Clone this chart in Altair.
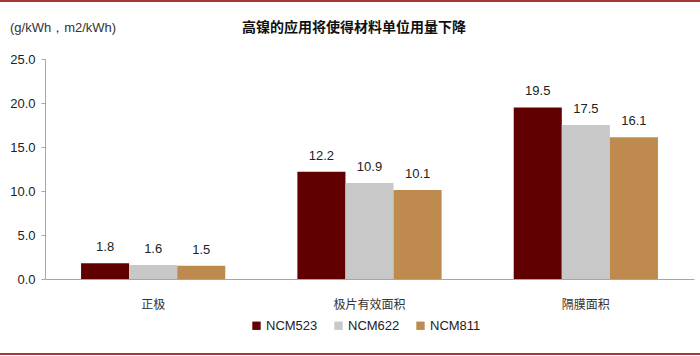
import altair as alt
import pandas as pd

categories = ["正极", "极片有效面积", "隔膜面积"]
series = ["NCM523", "NCM622", "NCM811"]
ncm523 = [1.8, 12.2, 19.5]
ncm622 = [1.6, 10.9, 17.5]
ncm811 = [1.5, 10.1, 16.1]
colors = ["#600000", "#C8C8C8", "#BE8A4E"]

rows = []
for i, c in enumerate(categories):
    for s, vals in zip(series, [ncm523, ncm622, ncm811]):
        rows.append({"cat": c, "series": s, "value": vals[i], "label": f"{vals[i]:.1f}"})
df = pd.DataFrame(rows)

W, H = 649, 220
FONT = "Liberation Sans"
CJK = "Noto Sans CJK SC"

x = alt.X("cat:N", sort=categories, title=None,
          scale=alt.Scale(paddingInner=0, paddingOuter=0),
          axis=alt.Axis(labelAngle=0, ticks=False, labelPadding=20, labelFont=CJK,
                        labelFontSize=12, labelColor="#333333", domainColor="#A6A6A6"))
xo = alt.XOffset("series:N", sort=series,
                 scale=alt.Scale(paddingInner=0, paddingOuter=0.75))

bars = alt.Chart(df).mark_bar().encode(
    x=x, xOffset=xo,
    y=alt.Y("value:Q", title=None,
            scale=alt.Scale(domain=[0, 25], nice=False),
            axis=alt.Axis(values=[0, 5, 10, 15, 20, 25], format=".1f", grid=False,
                          tickSize=4, tickColor="#A6A6A6", domainColor="#A6A6A6",
                          labelFont=FONT, labelFontSize=13, labelColor="#222222",
                          labelPadding=6)),
    color=alt.Color("series:N", sort=series,
                    scale=alt.Scale(domain=series, range=colors),
                    legend=alt.Legend(title=None, orient="none", direction="horizontal",
                                      legendX=205, legendY=260, symbolType="square",
                                      symbolSize=70, symbolStrokeWidth=0,
                                      labelFont=FONT, labelFontSize=13,
                                      labelColor="#222222", columnPadding=14,
                                      labelOffset=3)),
)

labels = alt.Chart(df).mark_text(baseline="bottom", dy=-9, font=FONT, fontSize=13,
                                 color="#222222").encode(
    x=alt.X("cat:N", sort=categories), xOffset=xo,
    y="value:Q", text="label:N")

title = alt.Chart(pd.DataFrame({"t": ["高镍的应用将使得材料单位用量下降"]})).mark_text(
    font=CJK, fontSize=14, fontWeight="bold", color="#111111", align="center",
    baseline="middle").encode(x=alt.value(309), y=alt.value(-31), text="t:N")

unit = alt.Chart(pd.DataFrame({"t": ["(g/kWh，m2/kWh)"]})).mark_text(
    font=FONT, fontSize=13, color="#333333", align="left",
    baseline="middle").encode(x=alt.value(-35), y=alt.value(-31), text="t:N")

top_line = alt.Chart(pd.DataFrame({"a": [0]})).mark_rule(color="#A33A3A", strokeWidth=2).encode(
    x=alt.value(-45), x2=alt.value(655), y=alt.value(-58))
bot_line = alt.Chart(pd.DataFrame({"a": [0]})).mark_rule(color="#A33A3A", strokeWidth=2).encode(
    x=alt.value(-45), x2=alt.value(655), y=alt.value(295))

chart = alt.layer(bars, labels, title, unit, top_line, bot_line).properties(
    width=W, height=H,
    autosize=alt.AutoSizeParams(type="none"),
    padding={"left": 45, "top": 59, "right": 6, "bottom": 77},
    background="white",
).configure_view(stroke=None)

chart.save("out.html", embed_options={"renderer": "svg", "actions": False})
